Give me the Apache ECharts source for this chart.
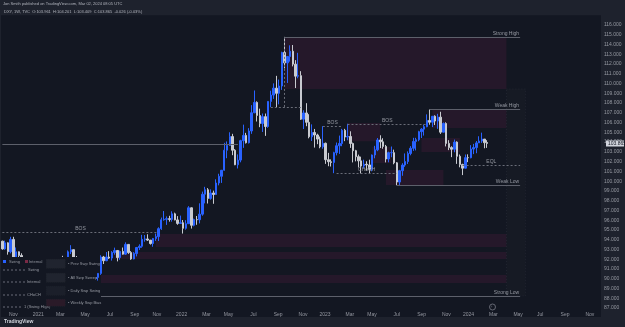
<!DOCTYPE html>
<html>
<head>
<meta charset="utf-8">
<script src="https://cdn.jsdelivr.net/npm/echarts@6/dist/echarts.min.js"></script>
<style>
  html, body { margin: 0; padding: 0; background: #1e222d; }
  #c { width: 625px; height: 327px; }
</style>
</head>
<body>
<div id="c"></div>
<script>
/* DXY weekly candles, [open, high, low, close] per week (Mondays from 2020-10-05) */
const ohlc2020 = [
  [93.85, 93.90, 92.98, 93.06], [93.06, 93.91, 92.97, 93.68], [93.68, 93.73, 92.47, 92.77], [92.77, 94.30, 92.60, 94.03],
  [94.03, 94.30, 92.13, 92.23], [92.23, 93.21, 92.13, 92.76], [92.76, 92.80, 92.03, 92.39], [92.39, 92.61, 91.75, 91.79],
  [91.79, 91.93, 90.47, 90.70], [90.70, 91.18, 90.42, 90.98], [90.98, 91.06, 89.74, 90.02], [90.02, 90.95, 89.83, 90.25],
  [90.25, 90.29, 89.52, 89.94]
];
const ohlc2021 = [
  [89.94, 90.23, 89.21, 90.10], [90.10, 90.95, 89.93, 90.77], [90.77, 90.86, 89.97, 90.24], [90.24, 91.05, 89.96, 90.58],
  [90.58, 91.60, 90.42, 91.04], [91.04, 91.05, 90.21, 90.48], [90.48, 91.06, 90.13, 90.36], [90.36, 91.00, 89.68, 90.88],
  [90.88, 92.06, 90.68, 91.99], [91.99, 92.35, 91.37, 91.67], [91.67, 92.16, 91.30, 91.92], [91.92, 92.90, 91.84, 92.76],
  [92.76, 93.44, 92.53, 92.98], [92.98, 93.00, 92.08, 92.16], [92.16, 92.33, 91.44, 91.54], [91.54, 91.62, 90.72, 90.85],
  [90.85, 91.43, 90.42, 91.28], [91.28, 91.43, 90.04, 90.22], [90.22, 90.91, 89.86, 90.31], [90.31, 90.53, 89.65, 89.99],
  [89.99, 90.21, 89.53, 90.03], [90.03, 90.63, 89.66, 90.14], [90.14, 90.58, 89.81, 90.55], [90.55, 92.41, 90.40, 92.23],
  [92.23, 92.34, 91.51, 91.85], [91.85, 92.74, 91.80, 92.23], [92.23, 92.83, 92.03, 92.12], [92.12, 92.83, 91.86, 92.69],
  [92.69, 93.19, 92.47, 92.90], [92.90, 92.94, 91.78, 92.17], [92.17, 92.89, 91.94, 92.80], [92.80, 93.20, 92.47, 92.52],
  [92.52, 93.73, 92.45, 93.52], [93.52, 93.53, 92.55, 92.68], [92.68, 92.83, 91.94, 92.03], [92.03, 92.73, 91.99, 92.58],
  [92.58, 93.26, 92.29, 93.20], [93.20, 93.53, 92.95, 93.33], [93.33, 94.50, 93.18, 94.04], [94.04, 94.48, 93.80, 94.08],
  [94.08, 94.56, 93.87, 93.96], [93.96, 93.96, 93.50, 93.61], [93.61, 94.18, 93.28, 94.12], [94.12, 94.63, 93.88, 94.32],
  [94.32, 95.27, 93.87, 95.13], [95.13, 96.27, 95.01, 96.04], [96.04, 96.94, 95.95, 96.09], [96.09, 96.39, 95.52, 96.16],
  [96.16, 96.45, 95.85, 96.08], [96.08, 96.91, 95.85, 96.65], [96.65, 96.77, 95.99, 96.03], [96.03, 96.42, 95.53, 95.67]
];
const ohlc2022 = [
  [95.67, 96.47, 95.71, 95.74], [95.74, 96.02, 94.63, 95.17], [95.17, 96.00, 95.03, 95.64], [95.64, 97.44, 95.62, 97.27],
  [97.27, 97.31, 95.14, 95.48], [95.48, 96.16, 95.37, 96.06], [96.06, 96.43, 95.53, 96.05], [96.05, 97.73, 95.67, 96.62],
  [96.62, 98.93, 96.46, 98.66], [98.66, 99.42, 97.72, 99.12], [99.12, 99.29, 97.71, 98.23], [98.23, 99.16, 98.10, 98.79],
  [98.79, 99.03, 97.68, 98.63], [98.63, 100.19, 98.62, 99.81], [99.81, 100.76, 99.57, 100.50], [100.50, 101.03, 99.82, 101.12],
  [101.12, 103.93, 101.07, 103.17], [103.17, 104.07, 102.35, 103.66], [103.66, 105.01, 103.60, 104.57], [104.57, 104.85, 102.66, 103.17],
  [103.17, 103.28, 101.64, 101.68], [101.68, 102.74, 101.30, 102.16], [102.16, 104.24, 101.93, 104.15], [104.15, 105.79, 103.41, 104.69],
  [104.69, 104.95, 103.86, 103.94], [103.94, 105.43, 103.86, 105.14], [105.14, 107.79, 104.85, 107.01], [107.01, 109.29, 106.96, 108.07],
  [108.07, 108.18, 106.11, 106.73], [106.73, 107.43, 105.53, 105.91], [105.91, 106.93, 105.04, 106.61], [106.61, 106.93, 104.64, 105.60],
  [105.60, 108.19, 105.47, 108.17], [108.17, 109.27, 107.58, 108.82], [108.82, 110.02, 108.43, 109.53], [109.53, 110.79, 107.59, 109.00],
  [109.00, 110.41, 107.87, 109.75], [109.75, 113.26, 109.35, 113.19], [113.19, 114.78, 111.55, 112.12], [112.12, 112.83, 110.06, 112.77],
  [112.77, 113.92, 112.25, 113.31], [113.31, 113.95, 111.76, 111.99], [111.99, 112.40, 109.54, 110.76], [110.76, 113.15, 110.54, 110.81],
  [110.81, 111.27, 106.27, 106.35], [106.35, 107.26, 105.34, 106.99], [106.99, 107.99, 105.63, 106.03], [106.03, 106.86, 104.39, 104.55],
  [104.55, 105.82, 104.12, 104.99], [104.99, 105.35, 103.44, 104.73], [104.73, 104.86, 103.79, 104.31], [104.31, 104.57, 103.37, 103.52]
];
const ohlc2023 = [
  [103.52, 105.63, 103.32, 103.88], [103.88, 103.95, 101.77, 102.20], [102.20, 102.90, 101.53, 101.99], [101.99, 102.23, 101.50, 101.92],
  [101.92, 103.01, 100.82, 102.92], [102.92, 103.96, 102.64, 103.63], [103.63, 104.67, 102.79, 103.86], [103.86, 105.36, 103.58, 105.21],
  [105.21, 105.36, 104.10, 104.52], [104.52, 105.88, 104.19, 104.58], [104.58, 105.11, 103.41, 103.86], [103.86, 103.95, 101.92, 103.12],
  [103.12, 103.21, 102.03, 102.51], [102.51, 102.72, 101.41, 102.08], [102.08, 102.51, 100.79, 101.55], [101.55, 102.20, 101.34, 101.73],
  [101.73, 102.04, 101.07, 101.66], [101.66, 102.20, 100.78, 101.21], [101.21, 102.73, 101.01, 102.68], [102.68, 103.62, 102.34, 103.21],
  [103.21, 104.42, 103.07, 104.22], [104.22, 104.70, 103.39, 104.03], [104.03, 104.40, 103.32, 103.56], [103.56, 103.71, 101.92, 102.27],
  [102.27, 103.02, 101.93, 102.92], [102.92, 103.55, 102.45, 102.92], [102.92, 103.23, 101.73, 101.88], [101.88, 101.96, 99.58, 99.91],
  [99.91, 101.16, 99.57, 101.07], [101.07, 101.84, 100.55, 101.65], [101.65, 102.84, 101.47, 102.01], [102.01, 103.05, 101.76, 102.84],
  [102.84, 103.59, 102.65, 103.37], [103.37, 104.44, 103.10, 104.07], [104.07, 104.44, 103.15, 104.24], [104.24, 105.16, 104.09, 105.07],
  [105.07, 105.43, 104.42, 105.33], [105.33, 105.78, 104.67, 105.58], [105.58, 106.84, 105.52, 106.22], [106.22, 107.35, 105.78, 106.04],
  [106.04, 106.60, 105.54, 106.65], [106.65, 106.75, 105.75, 106.16], [106.16, 106.90, 105.36, 106.56], [106.56, 107.11, 104.84, 105.02],
  [105.02, 106.01, 104.99, 105.91], [105.91, 106.03, 103.56, 103.87], [103.87, 104.20, 103.18, 103.44], [103.44, 103.58, 102.46, 103.27],
  [103.27, 104.26, 102.96, 104.00], [104.00, 104.08, 101.77, 102.55], [102.55, 102.73, 101.42, 101.70], [101.70, 101.79, 100.62, 101.33]
];
const ohlc2024 = [
  [101.33, 102.73, 101.32, 102.41], [102.41, 102.75, 101.95, 102.40], [102.40, 103.69, 102.34, 103.29], [103.29, 103.82, 102.77, 103.44],
  [103.44, 104.11, 102.86, 103.92], [103.92, 104.60, 103.92, 104.11], [104.11, 104.97, 103.92, 104.31], [104.31, 104.32, 103.37, 103.94],
  [103.96, 104.20, 103.41, 103.87]
];

const monthNames = ['Jan', 'Feb', 'Mar', 'Apr', 'May', 'Jun', 'Jul', 'Aug', 'Sep', 'Oct', 'Nov', 'Dec'];
const firstWeek = '2020-10-05';
const weekCount = 219;          // visible time scale incl. empty space on the right
const lastPrice = 103.865;

/* order-block / zone boxes: [from week, to week, top, bottom] */
const zones = [
  ['2022-09-26', '2024-04-15', 114.78, 109.44],
  ['2023-10-09', '2024-04-15', 107.30, 105.45],
  ['2023-03-06', '2023-05-29', 105.95, 104.10],
  ['2023-05-08', '2023-06-26', 103.50, 101.86],
  ['2023-09-11', '2023-12-18', 104.42, 102.99],
  ['2023-06-12', '2023-11-06', 101.14, 99.60],
  ['2021-11-01', '2024-04-15', 94.59, 93.25],
  ['2021-07-19', '2024-04-15', 92.74, 92.02],
  ['2021-06-14', '2024-04-15', 90.39, 89.57]
];
/* faint premium / discount column at the right end */
const pdZone = ['2024-04-15', '2024-06-03', 109.44, 88.25];

/* structure lines: [from week, to week, price, dashed, label] */
const levels = [
  ['2020-10-05', '2022-05-30', 103.80, false, ''],
  ['2020-10-05', '2021-11-08', 94.74, true, 'BOS'],
  ['2022-09-26', '2024-05-20', 114.78, false, 'Strong High'],
  ['2023-10-02', '2024-05-20', 107.35, false, 'Weak High'],
  ['2023-07-10', '2024-05-20', 99.57, false, 'Weak Low'],
  ['2021-06-14', '2024-05-20', 88.25, false, 'Strong Low'],
  ['2023-03-06', '2023-09-25', 105.88, true, 'BOS'],
  ['2023-01-02', '2023-02-20', 105.63, true, 'BOS'],
  ['2023-02-06', '2023-07-10', 100.82, true, 'CHoCH'],
  ['2022-08-22', '2022-11-07', 107.60, true, ''],
  ['2023-12-25', '2024-05-20', 101.60, true, 'EQL']
];

const weeks = [];
(function () {
  const d = new Date(firstWeek + 'T00:00:00Z');
  for (let i = 0; i < weekCount; i++) {
    weeks.push(d.toISOString().slice(0, 10));
    d.setUTCDate(d.getUTCDate() + 7);
  }
})();
const candles = [].concat(ohlc2020, ohlc2021, ohlc2022, ohlc2023, ohlc2024)
  .map(r => [r[0], r[3], r[2], r[1]]);

const mon = s => +s.slice(5, 7);
const isTick = i => i > 0 && mon(weeks[i]) !== mon(weeks[i - 1]) && mon(weeks[i]) % 2 === 1;
const tickText = v => mon(v) === 1 ? v.slice(0, 4) : monthNames[mon(v) - 1];

const C = { bg: '#131722', txt: '#9598a1', line: '#5d606b', up: '#2962ff', down: '#c8cad0', zone: 'rgba(136, 32, 84, 0.16)' };
const tiny = { color: C.txt, fontSize: 5, fontFamily: 'Liberation Sans, Arial' };
const F = '4px Liberation Sans';

// legend rows of the indicator table, drawn over the chart like TradingView does
function legend() {
  const els = [{ type: 'rect', z: 100, left: 1, top: 257, shape: { width: 95, height: 53 }, style: { fill: C.bg } }];
  const txt = (x, y, t) => els.push({ type: 'text', z: 101, left: x, top: y, style: { text: t, fill: C.txt, font: F } });
  els.push({ type: 'rect', z: 101, left: 3, top: 260, shape: { width: 3, height: 3 }, style: { fill: C.up } });
  txt(9, 259.5, 'Swing');
  els.push({ type: 'rect', z: 101, left: 25, top: 260, shape: { width: 3, height: 3 }, style: { fill: '#7a2a45' } });
  txt(29, 259.5, 'Internal');
  [[270, 28, 'Swing'], [282, 27, 'Internal'], [295, 27, 'CHoCH'], [307, 24, '1 (Swing High)']].forEach(r => {
    els.push({ type: 'line', z: 101, shape: { x1: 3, y1: r[0], x2: r[1] - 1, y2: r[0] }, style: { stroke: '#6a6d78', lineWidth: 1, lineDash: [2, 2] } });
    txt(r[1], r[0] - 2, r[2]);
  });
  [[259, 9, '#20242f', 'Prev Swp Swing'], [273, 9, '#20242f', 'All Swp Sweep'], [286, 9, '#1b1f2a', 'Daily Swp Swing'], [299, 7, '#2a1a28', 'Weekly Swp Bias']].forEach(r => {
    els.push({ type: 'rect', z: 101, left: 46, top: r[0], shape: { width: 19, height: r[1] }, style: { fill: r[2], stroke: '#262a35', lineWidth: 0.5, lineDash: [1, 1] } });
    txt(68, r[0] + r[1] / 2 - 2, '\u2022 ' + r[3]);
  });
  return els;
}

const chart = echarts.init(document.getElementById('c'), null, { renderer: 'canvas' });
chart.setOption({
  backgroundColor: '#1e222d',
  animation: false,
  grid: [
    { left: 1, right: 20, top: 15.24, height: 302.56, backgroundColor: C.bg, show: true, borderWidth: 0 },
    { left: 1, right: 20, top: 309, height: 1 }
  ],
  xAxis: [
    { type: 'category', data: weeks, gridIndex: 0, boundaryGap: true, axisLine: { show: false }, axisTick: { show: false }, axisLabel: { show: false }, splitLine: { show: false } },
    { type: 'category', data: weeks, gridIndex: 1, boundaryGap: true, axisLine: { show: false }, axisTick: { show: false },
      axisLabel: Object.assign({ interval: isTick, formatter: tickText, margin: 2 }, tiny), splitLine: { show: false } }
  ],
  yAxis: [
    { type: 'value', gridIndex: 0, position: 'right', min: 86, max: 117, interval: 1,
      axisLine: { show: false }, axisTick: { show: false }, splitLine: { show: false },
      axisLabel: Object.assign({ margin: 3, formatter: v => (v >= 87 && v <= 116) ? v.toFixed(3) : '' }, tiny) },
    { type: 'value', gridIndex: 1, show: false }
  ],
  series: [{
    type: 'candlestick',
    data: candles,
    barWidth: '72%',
    itemStyle: { color: C.up, color0: C.down, borderColor: C.up, borderColor0: C.down, borderWidth: 1 },
    markArea: {
      silent: true,
      itemStyle: { color: C.zone },
      data: zones.map(z => [{ xAxis: z[0], yAxis: z[2] }, { xAxis: z[1], yAxis: z[3] }]).concat([[
        { xAxis: pdZone[0], yAxis: pdZone[2], itemStyle: { color: 'rgba(120,123,134,0.03)', borderColor: '#2a2e39', borderWidth: 0.6, borderType: [1, 2] } },
        { xAxis: pdZone[1], yAxis: pdZone[3] }
      ]])
    },
    markLine: {
      silent: true, symbol: 'none',
      data: levels.map(l => [
        { coord: [l[0], l[2]], lineStyle: { color: l[3] ? '#6a6d78' : '#5d606b', width: 1, type: l[3] ? [2, 2] : 'solid' },
          label: Object.assign({ show: !!l[4], formatter: l[4], position: l[4].length > 5 ? 'insideEndTop' : 'insideMiddleTop', distance: 1 }, tiny) },
        { coord: [l[1], l[2]] }
      ]).concat([[
        { coord: ['2022-09-26', 114.78], lineStyle: { color: '#6a6d78', width: 1, type: [2, 2] }, label: { show: false } },
        { coord: ['2022-09-26', 107.60] }
      ]])
    }
  }],
  graphic: { elements: [
    // header
    { type: 'rect', z: 100, left: 0, top: 0, shape: { width: 625, height: 8 }, style: { fill: '#1e222d' } },
    { type: 'text', z: 101, left: 3, top: 1.5, style: { text: 'Jon Smith published on TradingView.com, Mar 02, 2024 08:05 UTC', fill: '#b2b5be', font: F } },
    { type: 'text', z: 101, left: 4, top: 10, style: { text: 'DXY, 1W, TVC  O:103.961  H:104.201  L:103.409  C:103.865  -0.026 (-0.03%)', fill: '#b2b5be', font: F } },
    // current price tag
    { type: 'rect', z: 100, left: 606, top: 140.5, shape: { width: 18, height: 6 }, style: { fill: '#d1d4dc' } },
    { type: 'text', z: 101, left: 608, top: 141.3, style: { text: lastPrice.toFixed(3), fill: '#131722', font: '5px Liberation Sans' } },
    // scroll-to-realtime button
    { type: 'circle', z: 101, shape: { cx: 492.5, cy: 307, r: 3 }, style: { fill: 'none', stroke: '#787b86', lineWidth: 0.8 } },
    { type: 'text', z: 101, left: 491, top: 305, style: { text: '\u203a', fill: '#787b86', font: '4px Liberation Sans' } },
    // footer
    { type: 'rect', z: 100, left: 0, top: 317, shape: { width: 625, height: 10 }, style: { fill: '#1e222d' } },
    { type: 'text', z: 101, left: 4, top: 319.5, style: { text: 'TradingView', fill: '#d1d4dc', font: 'bold 5px Liberation Sans' } }
  ].concat(legend()) }
});
</script>
</body>
</html>
